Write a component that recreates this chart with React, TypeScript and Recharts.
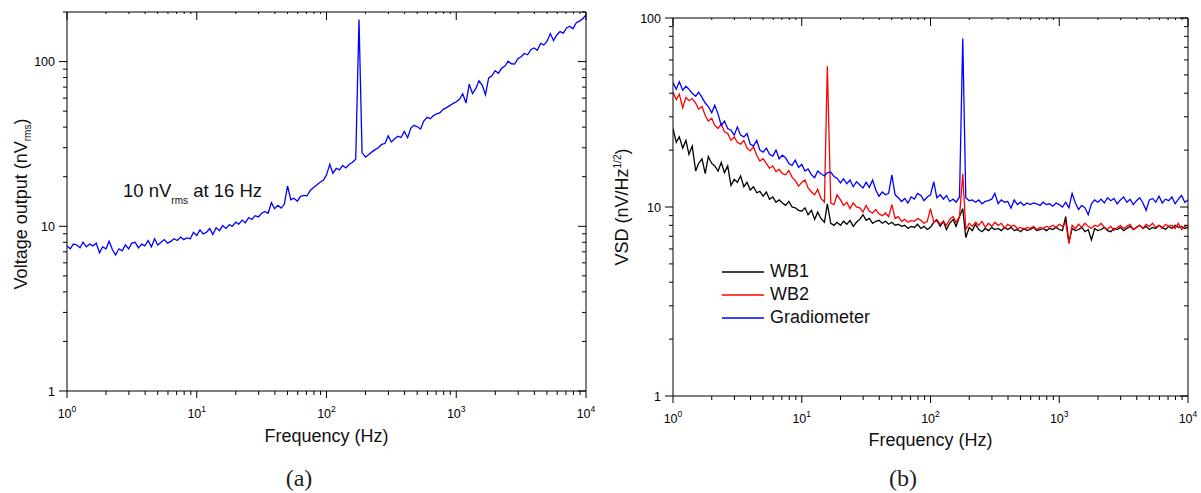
import React from 'react'
import { LineChart, Line, XAxis, YAxis, Legend } from 'recharts'

// frequency grid (Hz), shared by every trace
const FREQ = [
  1, 1.06, 1.12, 1.19, 1.26, 1.33, 1.41, 1.5, 1.58, 1.68, 1.78, 1.88, 2, 2.11, 2.24, 2.37, 2.51, 2.66, 2.82, 2.99,
  3.16, 3.35, 3.55, 3.76, 3.98, 4.22, 4.47, 4.73, 5.01, 5.31, 5.62, 5.96, 6.31, 6.68, 7.08, 7.5, 7.94, 8.41, 8.91, 9.44,
  10, 10.6, 11.2, 11.9, 12.6, 13.3, 14.1, 15, 15.8, 16.8, 17.8, 18.8, 20, 21.1, 22.4, 23.7, 25.1, 26.6, 28.2, 29.9,
  31.6, 33.5, 35.5, 37.6, 39.8, 42.2, 44.7, 47.3, 50.1, 53.1, 56.2, 59.6, 63.1, 66.8, 70.8, 75, 79.4, 84.1, 89.1, 94.4,
  100, 106, 112, 119, 126, 133, 141, 150, 158, 168, 178, 188, 200, 211, 224, 237, 251, 266, 282, 299,
  316, 335, 355, 376, 398, 422, 447, 473, 501, 531, 562, 596, 631, 668, 708, 750, 794, 841, 891, 944,
  1000, 1059, 1122, 1189, 1259, 1334, 1413, 1496, 1585, 1679, 1778, 1884, 1995, 2113, 2239, 2371, 2512, 2661, 2818, 2985,
  3162, 3350, 3548, 3758, 3981, 4217, 4467, 4732, 5012, 5309, 5623, 5957, 6310, 6683, 7079, 7499, 7943, 8414, 8913, 9441,
  10000,
]

// (a) voltage output, nV rms
const VOUT = [
  7.6, 7.3, 7.8, 7.7, 7.4, 8.0, 7.5, 7.8, 7.6, 7.9, 6.9, 7.5, 7.3, 8.1, 7.2, 6.7, 7.3, 7.1, 7.7, 7.3,
  7.9, 8.0, 7.4, 7.8, 7.6, 8.2, 7.5, 8.4, 7.7, 8.0, 8.3, 7.9, 8.1, 8.4, 8.2, 8.6, 8.3, 8.5, 8.4, 9.2,
  8.8, 9.5, 9.0, 9.2, 9.7, 8.9, 9.8, 9.4, 10.1, 9.7, 10.2, 10.0, 10.6, 10.3, 10.9, 10.5, 11.3, 11.0, 11.6, 11.4,
  12.0, 12.3, 12.0, 13.9, 12.8, 13.4, 12.9, 13.6, 17.6, 14.5, 14.8, 14.2, 15.2, 15.4, 15.3, 16.5, 17.2, 17.8, 18.5, 19.0,
  20.5, 23.8, 21.0, 22.5, 22.0, 23.4, 22.6, 23.8, 24.4, 25.5, 180, 28.0, 26.3, 27.2, 28.3, 29.2, 30.0, 31.4, 31.8, 35.4,
  32.5, 34.0, 35.2, 34.6, 37.7, 34.5, 39.5, 41.0, 40.2, 39.0, 43.5, 45.9, 45.0, 47.0, 48.2, 49.0, 51.3, 52.5, 54.0, 55.6,
  57.0, 59.0, 63.8, 56.0, 73.0, 64.0, 68.5, 76.5, 72.0, 63.0, 79.5, 82.0, 88.0, 85.0, 91.0, 94.0, 100.5, 97.0, 96.5, 104.0,
  107.0, 112.0, 110.0, 118.0, 121.0, 117.0, 129.0, 126.0, 133.0, 148.0, 134.0, 145.0, 152.0, 149.0, 160.0, 164.0, 158.0, 172.0, 176.0, 182.0,
  192.0,
]

// (b) voltage spectral density, nV/Hz^1/2
const WB1 = [
  26.0, 22.0, 23.5, 20.5, 22.5, 19.0, 21.0, 15.5, 17.0, 18.0, 15.0, 18.5, 17.0, 16.5, 15.5, 17.2, 15.2, 16.5, 13.0, 14.0,
  13.5, 14.6, 12.8, 13.5, 12.3, 12.8, 11.9, 12.1, 11.4, 12.0, 11.0, 11.3, 10.6, 10.9, 10.5, 10.2, 10.7, 10.0, 9.9, 9.6,
  9.5, 9.9, 9.1, 9.6, 8.6, 9.4, 8.7, 8.3, 10.4, 8.2, 8.0, 8.3, 8.0, 8.4, 8.1, 8.5, 7.9, 8.3, 8.6, 9.1,
  8.5, 8.7, 8.2, 8.4, 8.5, 8.2, 8.4, 8.1, 8.3, 8.0, 8.1, 7.9, 8.0, 7.7, 7.9, 7.8, 8.1, 7.7, 7.9, 7.6,
  7.8, 8.3, 8.5, 7.9, 8.4, 7.6, 8.2, 8.6, 7.9, 8.9, 9.8, 6.9, 7.8, 7.5, 8.1, 7.6, 7.4, 7.7, 7.5, 7.8,
  7.6, 7.7, 7.5, 7.8, 7.6, 7.8, 7.5, 7.6, 7.4, 7.7, 7.5, 7.6, 7.8, 7.5, 7.6, 7.7, 7.5, 7.7, 7.6, 7.8,
  7.6, 7.5, 8.9, 6.5, 7.7, 7.5, 7.6, 7.8, 7.4, 7.6, 6.7, 7.7, 7.5, 7.6, 7.8, 7.5, 7.4, 7.7, 7.6, 7.8,
  7.5, 7.7, 7.9, 7.6, 7.8, 8.0, 7.7, 7.9, 7.6, 7.8, 7.7, 8.0, 7.8, 7.6, 7.9, 7.7, 8.0, 7.8, 7.9, 7.7,
  7.8,
]

const WB2 = [
  40.5, 37.0, 39.5, 33.5, 38.0, 36.5, 37.5, 35.5, 33.0, 34.0, 30.5, 28.5, 29.5, 27.0, 26.0, 27.5, 25.0, 24.5, 22.5, 23.5,
  22.0, 21.5, 22.5, 20.5, 19.8, 20.8, 18.8, 17.5, 18.0, 17.0, 16.0, 16.5, 15.4, 15.8, 15.0, 14.8, 15.6, 14.4, 13.8, 12.9,
  13.5, 13.9, 12.6, 12.0, 11.6, 12.4, 11.1, 10.6, 55.5, 10.5, 10.3, 11.6, 10.9, 10.2, 10.6, 9.8, 10.5, 10.0, 9.9, 9.4,
  10.2, 9.5, 9.3, 9.7, 9.2, 9.0, 9.3, 8.9, 10.3, 8.7, 8.9, 8.4, 8.6, 8.3, 8.5, 8.4, 8.7, 8.5, 8.2, 8.4,
  9.8, 8.3, 8.6, 8.1, 8.4, 8.0, 8.6, 8.9, 8.3, 8.9, 15.0, 7.6, 8.2, 7.9, 8.3, 8.0, 8.4, 7.8, 8.2, 7.9,
  8.3, 8.0, 8.2, 7.7, 8.1, 7.9, 8.0, 7.7, 7.8, 7.6, 7.8, 7.7, 7.9, 7.6, 7.8, 7.7, 7.9, 7.8, 8.0, 7.8,
  8.1, 7.9, 8.3, 6.4, 8.0, 7.7, 8.1, 7.8, 8.2, 7.9, 7.7, 8.0, 7.9, 8.2, 7.8, 7.6, 7.9, 7.5, 7.8, 8.0,
  7.7, 7.9, 8.1, 7.6, 7.8, 8.0, 7.7, 8.1, 7.9, 8.2, 7.8, 8.0, 7.7, 8.1, 7.9, 8.0, 7.7, 8.2, 7.6, 7.9,
  8.0,
]

const GRAD = [
  45.5, 42.0, 46.0, 41.5, 43.5, 42.0, 40.0, 38.5, 40.5, 38.0, 35.5, 34.0, 31.5, 34.5, 31.0, 27.0, 28.5, 26.0, 25.5, 24.0,
  26.5, 24.0, 23.5, 24.5, 21.5, 21.0, 22.5, 20.0, 19.5, 20.5, 19.0, 18.6, 20.0, 18.0, 18.8, 18.2, 17.0, 16.6, 17.7, 16.2,
  16.8, 15.5, 15.9, 14.8, 14.3, 15.5, 15.0, 14.6, 15.2, 15.3, 14.5, 14.2, 13.4, 14.1, 13.3, 13.9, 12.8, 13.6, 13.1, 12.6,
  13.5, 12.7, 13.9, 12.3, 11.4, 12.0, 11.6, 11.8, 14.8, 11.6, 11.2, 10.7, 11.1, 10.5, 11.3, 11.0, 11.8, 11.5, 10.8, 11.3,
  11.6, 13.6, 11.2, 11.6, 11.0, 11.5, 10.7, 11.0, 10.6, 11.3, 78.0, 11.2, 10.8, 10.9, 10.6, 10.9, 10.4, 10.7, 10.8, 11.0,
  11.8, 10.4, 10.9, 10.6, 10.7, 9.85, 10.9, 10.3, 10.6, 10.2, 10.5, 10.3, 10.5, 10.4, 10.2, 10.6, 10.3, 10.4, 10.1, 10.5,
  10.3, 10.0, 10.6, 9.9, 11.8, 10.5, 9.7, 10.2, 9.9, 9.1, 10.4, 10.9, 10.6, 11.0, 10.5, 11.2, 10.8, 11.1, 10.4, 10.9,
  11.3, 10.6, 11.0, 10.3, 10.8, 11.2, 10.5, 9.6, 10.9, 11.1, 10.6, 11.4, 10.5, 11.0, 10.8, 11.3, 10.4, 11.0, 11.5, 10.6,
  10.9,
]

const SERIES_B = ['WB1', 'WB2', 'Gradiometer']
const DECADES = [1, 10, 100, 1000, 10000]
const X_TICKS = [
  1, 2, 3, 4, 5, 6, 7, 8, 9, 10, 20, 30, 40, 50, 60, 70, 80, 90, 100, 200, 300, 400, 500, 600, 700, 800, 900,
  1000, 2000, 3000, 4000, 5000, 6000, 7000, 8000, 9000, 10000,
]
const Y_TICKS_A = [1, 2, 3, 4, 5, 6, 7, 8, 9, 10, 20, 30, 40, 50, 60, 70, 80, 90, 100, 200]
const Y_TICKS_B = [1, 2, 3, 4, 5, 6, 7, 8, 9, 10, 20, 30, 40, 50, 60, 70, 80, 90, 100]

const FONT = '"Liberation Sans", Arial, Helvetica, sans-serif'

const dataA = FREQ.map((f, i) => ({ f, v: VOUT[i] }))
const dataB = FREQ.map((f, i) => ({ f, wb1: WB1[i], wb2: WB2[i], grad: GRAD[i] }))

const isMajor = (v: number) => DECADES.includes(v)

/* ---- tick renderers (axes set tickSize/tickMargin to 0 so x/y sit on the axis line) ---- */

function BottomTick({ x, y, payload }: any) {
  const major = isMajor(payload.value)
  const exp = Math.round(Math.log10(payload.value))
  return (
    <g>
      <line x1={x} x2={x} y1={y} y2={y + (major ? 7 : 4)} stroke="#000" strokeWidth={1} />
      {major && (
        <text x={x} y={y + 27} textAnchor="middle" fontSize={12.5} fontFamily={FONT} fill="#000">
          10<tspan dy={-6} fontSize={8.5}>{exp}</tspan>
        </text>
      )}
    </g>
  )
}

function TopTick({ x, y, payload }: any) {
  const major = isMajor(payload.value)
  return <line x1={x} x2={x} y1={y} y2={y + (major ? 8 : 2)} stroke="#000" strokeWidth={1} />
}

function LeftTick({ x, y, payload }: any) {
  const major = isMajor(payload.value)
  return (
    <g>
      <line x1={x - (major ? 8 : 4)} x2={x} y1={y} y2={y} stroke="#000" strokeWidth={1} />
      {major && (
        <text x={x - 12} y={y + 4.5} textAnchor="end" fontSize={12.5} fontFamily={FONT} fill="#000">
          {payload.value}
        </text>
      )}
    </g>
  )
}

function RightTick({ x, y, payload }: any) {
  const major = isMajor(payload.value)
  return <line x1={x - (major ? 8 : 4)} x2={x} y1={y} y2={y} stroke="#000" strokeWidth={1} />
}

function SeriesLegend({ payload }: any) {
  // keep the plotting order, not the alphabetical one
  const items = [...(payload || [])].sort(
    (a: any, b: any) => SERIES_B.indexOf(a.value) - SERIES_B.indexOf(b.value)
  )
  return (
    <div style={{ fontFamily: FONT }}>
      {items.map((item: any) => (
        <div key={item.value} style={{ display: 'flex', alignItems: 'center', height: 23 }}>
          <svg width={42} height={4} style={{ display: 'block' }}>
            <line x1={0} x2={42} y1={2} y2={2} stroke={item.color} strokeWidth={1.3} />
          </svg>
          <span style={{ marginLeft: 6, fontSize: 18, color: '#111', lineHeight: '23px' }}>{item.value}</span>
        </div>
      ))}
    </div>
  )
}

export default function App() {
  const axisLine = { stroke: '#000', strokeWidth: 1 }
  return (
    <div style={{ position: 'absolute', left: 0, top: 0, width: 1201, height: 493, background: '#fff' }}>
      {/* (a) */}
      <div style={{ position: 'absolute', left: 0, top: 0 }}>
        <LineChart width={600} height={493} data={dataA} margin={{ top: 11, right: 13, bottom: 72, left: 7 }}>
          <XAxis dataKey="f" type="number" scale="log" domain={[1, 10000]} allowDataOverflow
            ticks={X_TICKS} interval={0} tick={<BottomTick />} tickSize={0} tickMargin={0}
            tickLine={false} axisLine={axisLine} height={30} />
          <XAxis xAxisId="top" orientation="top" dataKey="f" type="number" scale="log" domain={[1, 10000]}
            allowDataOverflow ticks={X_TICKS} interval={0} tick={<TopTick />} tickSize={0} tickMargin={0}
            tickLine={false} axisLine={axisLine} height={1} />
          <YAxis type="number" scale="log" domain={[1, 200]} allowDataOverflow ticks={Y_TICKS_A}
            interval={0} tick={<LeftTick />} tickSize={0} tickMargin={0} tickLine={false}
            axisLine={axisLine} width={60} />
          <YAxis yAxisId="r" orientation="right" type="number" scale="log" domain={[1, 200]}
            allowDataOverflow ticks={Y_TICKS_A} interval={0} tick={<RightTick />} tickSize={0}
            tickMargin={0} tickLine={false} axisLine={axisLine} width={1} />
          <Line dataKey="v" stroke="#0000ff" strokeWidth={1.3} dot={false} type="linear"
            isAnimationActive={false} />
        </LineChart>
      </div>

      {/* (b) */}
      <div style={{ position: 'absolute', left: 600, top: 0 }}>
        <LineChart width={601} height={493} data={dataB} margin={{ top: 17, right: 12, bottom: 67, left: 13 }}>
          <XAxis dataKey="f" type="number" scale="log" domain={[1, 10000]} allowDataOverflow
            ticks={X_TICKS} interval={0} tick={<BottomTick />} tickSize={0} tickMargin={0}
            tickLine={false} axisLine={axisLine} height={30} />
          <XAxis xAxisId="top" orientation="top" dataKey="f" type="number" scale="log" domain={[1, 10000]}
            allowDataOverflow ticks={X_TICKS} interval={0} tick={<TopTick />} tickSize={0} tickMargin={0}
            tickLine={false} axisLine={axisLine} height={1} />
          <YAxis type="number" scale="log" domain={[1, 100]} allowDataOverflow ticks={Y_TICKS_B}
            interval={0} tick={<LeftTick />} tickSize={0} tickMargin={0} tickLine={false}
            axisLine={axisLine} width={60} />
          <YAxis yAxisId="r" orientation="right" type="number" scale="log" domain={[1, 100]}
            allowDataOverflow ticks={Y_TICKS_B} interval={0} tick={<RightTick />} tickSize={0}
            tickMargin={0} tickLine={false} axisLine={axisLine} width={1} />
          <Legend layout="vertical" align="center" verticalAlign="middle" content={<SeriesLegend />}
            wrapperStyle={{ left: 122, top: 260, width: 200 }} />
          <Line name="WB1" dataKey="wb1" stroke="#000000" strokeWidth={1.3} dot={false} type="linear"
            isAnimationActive={false} />
          <Line name="WB2" dataKey="wb2" stroke="#ff0000" strokeWidth={1.3} dot={false} type="linear"
            isAnimationActive={false} />
          <Line name="Gradiometer" dataKey="grad" stroke="#0000ff" strokeWidth={1.3} dot={false}
            type="linear" isAnimationActive={false} />
        </LineChart>
      </div>

      {/* titles, annotation, captions */}
      <svg width={1201} height={493} style={{ position: 'absolute', left: 0, top: 0, pointerEvents: 'none' }}>
        <g fontFamily={FONT} fill="#111">
          <text transform="translate(27,204) rotate(-90)" textAnchor="middle" fontSize={18}>
            Voltage output (nV<tspan fontSize={10} dy={4}>rms</tspan><tspan dy={-4}>)</tspan>
          </text>
          <text x={326.5} y={442} textAnchor="middle" fontSize={18}>Frequency (Hz)</text>
          <text x={123} y={197} fontSize={18.5}>
            10 nV<tspan fontSize={10} dy={7}>rms</tspan><tspan dy={-7}> at 16 Hz</tspan>
          </text>
          <text transform="translate(628,207) rotate(-90)" textAnchor="middle" fontSize={18}>
            VSD (nV/Hz<tspan fontSize={10} dy={-7}>1/2</tspan><tspan dy={7}>)</tspan>
          </text>
          <text x={930.5} y={446} textAnchor="middle" fontSize={18}>Frequency (Hz)</text>
        </g>
        <g fontFamily='"Liberation Serif", "DejaVu Serif", serif' fill="#222" fontSize={24}>
          <text x={299} y={486} textAnchor="middle">(a)</text>
          <text x={903} y={486} textAnchor="middle">(b)</text>
        </g>
      </svg>
    </div>
  )
}
